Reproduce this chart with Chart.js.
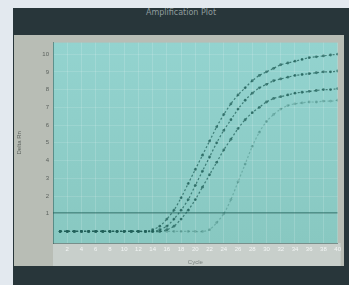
<!DOCTYPE html>
<html>
<head>
<meta charset="utf-8">
<script src="https://cdn.jsdelivr.net/npm/chart.js@4.4.1/dist/chart.umd.min.js"></script>
<style>
  html, body { margin: 0; padding: 0; background: #e3e9ef; }
  #frame { position: absolute; left: 13px; top: 8px; width: 336px; height: 277px; background: #28363a; }
  #title { position: absolute; left: 0; top: 0; width: 336px; height: 27px; line-height: 22px; text-align: center;
           font: 8px "DejaVu Sans", sans-serif; color: #8f9c9d; }
  #panel { position: absolute; left: 1px; top: 27px; width: 330px; height: 231px; background: #b8bdb5; }
  canvas { display: block; }
</style>
</head>
<body>
<div id="frame">
  <div id="title">Amplification Plot</div>
  <div id="panel"><canvas id="ampChart" width="330" height="231"></canvas></div>
</div>
<script>
// cycle numbers
const cycles = [1,2,3,4,5,6,7,8,9,10,11,12,13,14,15,16,17,18,19,20,21,22,23,24,25,26,27,28,29,30,31,32,33,34,35,36,37,38,39,40];

// delta Rn per cycle
const wellA = [0,0,0,0,0,0,0,0,0,0,0,0,0,0.1,0.3,0.7,1.2,1.9,2.7,3.5,4.3,5.1,5.9,6.6,7.2,7.7,8.1,8.5,8.8,9.0,9.2,9.4,9.5,9.6,9.7,9.8,9.85,9.9,9.95,10.0];
const wellB = [0,0,0,0,0,0,0,0,0,0,0,0,0,0,0.1,0.3,0.7,1.2,1.8,2.6,3.4,4.2,5.0,5.7,6.3,6.9,7.4,7.8,8.1,8.3,8.5,8.6,8.7,8.8,8.85,8.9,8.95,9.0,9.0,9.05];
const wellC = [0,0,0,0,0,0,0,0,0,0,0,0,0,0,0,0.1,0.3,0.7,1.2,1.8,2.5,3.2,3.9,4.6,5.2,5.8,6.3,6.7,7.0,7.3,7.5,7.6,7.7,7.8,7.85,7.9,7.95,8.0,8.0,8.05];
const wellD = [0,0,0,0,0,0,0,0,0,0,0,0,0,0,0,0,0,0,0,0,0,0.1,0.5,1.0,1.8,2.8,3.8,4.8,5.6,6.2,6.6,6.9,7.1,7.2,7.25,7.3,7.3,7.35,7.35,7.4];
const thresholdValue = 1.05;

const yTicks = [1,2,3,4,5,6,7,8,9,10];
const xTicks = [2,4,6,8,10,12,14,16,18,20,22,24,26,28,30,32,34,36,38,40];

const curveColor = "rgba(34, 96, 90, 0.75)";
const faintColor = "rgba(50, 115, 105, 0.35)";

function well(label, values, color) {
  return {
    label: label,
    data: cycles.map((c, i) => ({ x: c, y: values[i] })),
    borderColor: color,
    backgroundColor: color,
    borderWidth: 1.2,
    borderDash: [2, 2],
    pointRadius: 1.4,
    pointBorderWidth: 0,
    tension: 0.3
  };
}

// teal plot background + lighter strip under it
const plotBackground = {
  id: "plotBackground",
  beforeDraw(chart) {
    const { ctx, chartArea } = chart;
    ctx.save();
    ctx.fillStyle = "#c8cfcb";
    ctx.fillRect(chartArea.left, chartArea.bottom, chartArea.right - chartArea.left + 3, chart.height - chartArea.bottom);
    const g = ctx.createLinearGradient(0, chartArea.top, 0, chartArea.bottom);
    g.addColorStop(0, "#93d3cf");
    g.addColorStop(1, "#88c8c1");
    ctx.fillStyle = g;
    ctx.fillRect(chartArea.left, chartArea.top, chartArea.right - chartArea.left, chartArea.bottom - chartArea.top);
    ctx.restore();
  }
};

new Chart(document.getElementById("ampChart").getContext("2d"), {
  type: "line",
  data: {
    datasets: [
      {
        label: "Threshold",
        data: [{ x: 0, y: thresholdValue }, { x: 40, y: thresholdValue }],
        borderColor: "rgba(30, 95, 88, 0.7)",
        borderWidth: 1.2,
        pointRadius: 0
      },
      well("A", wellA, curveColor),
      well("B", wellB, curveColor),
      well("C", wellC, curveColor),
      well("D", wellD, faintColor)
    ]
  },
  options: {
    responsive: false,
    animation: false,
    layout: { padding: { top: 3, right: 4, left: 0, bottom: 0 } },
    plugins: { legend: { display: false }, tooltip: { enabled: false } },
    scales: {
      x: {
        type: "linear",
        min: 0,
        max: 40,
        afterBuildTicks: axis => { axis.ticks = xTicks.map(v => ({ value: v })); },
        afterFit: axis => { axis.height = 23; },
        grid: { color: "rgba(255,255,255,0.15)", drawTicks: false },
        border: { color: "rgba(40,80,75,0.5)" },
        ticks: { color: "#f2f5f4", font: { size: 6 }, padding: 3, maxRotation: 0 },
        title: { display: true, text: "Cycle", color: "#7b8480", font: { size: 6 }, padding: 0 }
      },
      y: {
        min: -0.65,
        max: 10.65,
        afterBuildTicks: axis => { axis.ticks = yTicks.map(v => ({ value: v })); },
        afterFit: axis => { axis.width = 39; },
        grid: { color: "rgba(255,255,255,0.13)", drawTicks: false },
        border: { color: "rgba(40,80,75,0.5)" },
        ticks: { color: "#5c625e", font: { size: 6 }, padding: 4 },
        title: { display: true, text: "Delta Rn", color: "#5c625e", font: { size: 6 }, padding: 2 }
      }
    }
  },
  plugins: [plotBackground]
});
</script>
</body>
</html>
